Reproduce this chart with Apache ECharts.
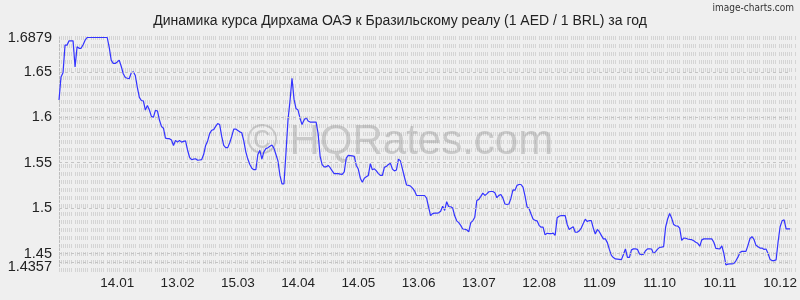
<!DOCTYPE html>
<html>
<head>
<meta charset="utf-8">
<script src="https://cdn.jsdelivr.net/npm/echarts@6/dist/echarts.min.js"></script>
<style>
html,body{margin:0;padding:0;background:#efefef;}
#chart{width:800px;height:300px;}
</style>
</head>
<body>
<div id="chart"></div>
<script>
// ---- data ----
const titleText = 'Динамика курса Дирхама ОАЭ к Бразильскому реалу (1 AED / 1 BRL) за год';
const startDate = [2024, 11, 16]; // 16 Dec 2024, daily points for one year
const tickLabels = ['14.01','13.02','15.03','14.04','14.05','13.06','13.07','12.08','11.09','11.10','10.11','10.12'];
const yTicks = [1.4357, 1.45, 1.5, 1.55, 1.6, 1.65, 1.6879];
const yMin = 1.4357;
const yMax = 1.6879;
const rates = [
1.619,1.6445,1.649,1.6795,1.6795,1.6842,1.6842,1.6842,1.6555,1.6776,
1.676,1.676,1.68,1.685,1.6879,1.6879,1.6879,1.6879,1.6879,1.6879,
1.6879,1.6879,1.6879,1.6879,1.6879,1.677,1.663,1.6593,1.6593,1.661,
1.663,1.656,1.648,1.6438,1.643,1.6427,1.649,1.65,1.646,1.633,
1.622,1.6185,1.618,1.608,1.613,1.608,1.601,1.600,1.6077,1.607,
1.597,1.590,1.588,1.577,1.5765,1.5765,1.575,1.569,1.5746,1.5727,
1.5746,1.5727,1.5735,1.574,1.564,1.556,1.5533,1.554,1.5544,1.5527,
1.553,1.5533,1.559,1.569,1.574,1.582,1.5857,1.5865,1.590,1.593,
1.592,1.579,1.569,1.5666,1.5666,1.572,1.579,1.587,1.587,1.5855,
1.584,1.583,1.574,1.562,1.554,1.548,1.544,1.5423,1.5423,1.559,
1.5636,1.554,1.562,1.5655,1.5665,1.568,1.5695,1.566,1.559,1.552,
1.536,1.5268,1.5268,1.561,1.597,1.618,1.643,1.62,1.6096,1.608,
1.599,1.592,1.597,1.600,1.596,1.5948,1.5948,1.5948,1.5948,1.582,
1.557,1.548,1.5455,1.5455,1.547,1.5445,1.541,1.5379,1.5379,1.5379,
1.5375,1.5371,1.540,1.555,1.5581,1.5578,1.5575,1.557,1.547,1.543,
1.533,1.5286,1.533,1.5345,1.536,1.5489,1.5423,1.5433,1.541,1.538,
1.536,1.536,1.545,1.546,1.548,1.5493,1.543,1.541,1.542,1.554,
1.552,1.543,1.534,1.5255,1.525,1.5243,1.522,1.519,1.514,1.5139,
1.5139,1.5139,1.5139,1.511,1.501,1.4918,1.494,1.4944,1.4944,1.4948,
1.4965,1.502,1.4974,1.507,1.5018,1.5015,1.500,1.4915,1.486,1.484,
1.481,1.477,1.4767,1.476,1.474,1.484,1.486,1.490,1.5084,1.5096,
1.513,1.5165,1.514,1.5157,1.518,1.5183,1.5183,1.517,1.5115,1.514,
1.515,1.511,1.5045,1.504,1.5045,1.511,1.520,1.5197,1.525,1.526,
1.526,1.523,1.5135,1.5015,1.4995,1.4935,1.488,1.4865,1.486,1.481,
1.479,1.479,1.4705,1.4723,1.472,1.4718,1.4725,1.470,1.4893,1.491,
1.4918,1.4918,1.4918,1.482,1.4765,1.478,1.4795,1.4734,1.4734,1.475,
1.478,1.483,1.4878,1.4852,1.4863,1.4863,1.478,1.4715,1.4765,1.474,
1.470,1.4661,1.4661,1.462,1.4545,1.448,1.4455,1.444,1.4438,1.4436,
1.4433,1.449,1.455,1.4458,1.4458,1.454,1.4551,1.4551,1.4545,1.4496,
1.4486,1.4493,1.453,1.4551,1.4551,1.455,1.4498,1.452,1.4548,1.4568,
1.457,1.4575,1.479,1.488,1.494,1.489,1.482,1.4805,1.4803,1.478,
1.4645,1.467,1.4668,1.466,1.4655,1.4652,1.464,1.4624,1.4612,1.458,
1.465,1.4661,1.4661,1.4661,1.4661,1.4661,1.4624,1.4556,1.4553,1.4552,
1.4585,1.450,1.4375,1.4383,1.4385,1.4385,1.439,1.442,1.446,1.451,
1.4524,1.4524,1.4524,1.459,1.4665,1.4685,1.4655,1.459,1.4575,1.456,
1.456,1.4545,1.455,1.450,1.4435,1.4422,1.4422,1.443,1.463,1.4795,
1.486,1.4871,1.4772,1.4772,1.4772
];

// ---- categories (one per day) ----
const categories = [];
for (let i = 0; i < rates.length; i++) {
  const d = new Date(startDate[0], startDate[1], startDate[2] + i);
  const dd = String(d.getDate()).padStart(2, '0');
  const mm = String(d.getMonth() + 1).padStart(2, '0');
  categories.push(dd + '.' + mm);
}

// ---- background texture pattern ----
const pc = document.createElement('canvas');
pc.width = 16; pc.height = 8;
const g = pc.getContext('2d');
g.fillStyle = '#d4d4d4';
for (let x = 0; x < 14; x += 2) g.fillRect(x, 1, 1, 4);

const FONT = 'Liberation Sans, Arial, sans-serif';
const labelStyle = {
  formatter: function (v) { return String(v); },
  color: '#222', fontFamily: FONT, fontSize: 14.5, margin: 7
};
const chart = echarts.init(document.getElementById('chart'), null, {renderer: 'canvas'});
chart.setOption({
  animation: false,
  backgroundColor: '#efefef',
  title: {
    text: titleText,
    left: 'center',
    top: 9,
    textStyle: {fontFamily: FONT, fontSize: 14, fontWeight: 'normal', color: '#222'}
  },
  grid: {left: 59, right: 3, top: 37.5, bottom: 33.5, containLabel: false},
  graphic: [
    {type: 'rect', left: 59, top: 35, silent: true, z: 0,
     shape: {width: 738, height: 241},
     style: {fill: {image: pc, repeat: 'repeat'}}},
    {type: 'text', left: 'center', top: 121, silent: true, z: 1,
     style: {text: '© HQRates.com', font: '42px Liberation Sans, Arial, sans-serif',
             fill: 'rgba(150,150,150,0.42)'}},
    {type: 'text', right: 6, top: 3, silent: true, z: 1,
     style: {text: 'image-charts.com', font: '10px DejaVu Sans Condensed, sans-serif', fill: '#333'}}
  ],
  xAxis: {
    type: 'category',
    data: categories,
    boundaryGap: false,
    axisLine: {show: false},
    axisTick: {show: false},
    splitLine: {show: false},
    axisLabel: {
      interval: function (idx, value) { return tickLabels.indexOf(value) >= 0; },
      color: '#222', fontFamily: FONT, fontSize: 13.5, margin: 10
    }
  },
  yAxis: [{
    type: 'value',
    min: yMin,
    max: yMax,
    position: 'left',
    axisLine: {show: true, lineStyle: {color: '#bbb', type: [2, 2], width: 1}},
    axisTick: {show: false},
    splitLine: {show: false},
    axisLabel: Object.assign({
      customValues: yTicks.filter(function (v) { return v !== yMin; }),
      showMinLabel: true,
      showMaxLabel: true,
      hideOverlap: false
    }, labelStyle)
  }, {
    type: 'value',
    min: yMin,
    max: yMax,
    position: 'left',
    offset: 0,
    axisLine: {show: false},
    axisTick: {show: false},
    splitLine: {show: false},
    axisLabel: Object.assign({
      customValues: [yMin],
      showMinLabel: true,
      showMaxLabel: true,
      hideOverlap: false
    }, labelStyle)
  }],
  series: [{
    type: 'line',
    data: rates,
    yAxisIndex: 0,
    showSymbol: false,
    symbol: 'none',
    lineStyle: {color: '#3333ff', width: 1.2},
    markLine: {
      silent: true,
      symbol: ['none', 'none'],
      label: {show: false},
      lineStyle: {color: '#c4c4c4', type: [3, 3], width: 1},
      data: yTicks.map(function (v) { return {yAxis: v}; })
    }
  }]
});
</script>
</body>
</html>
